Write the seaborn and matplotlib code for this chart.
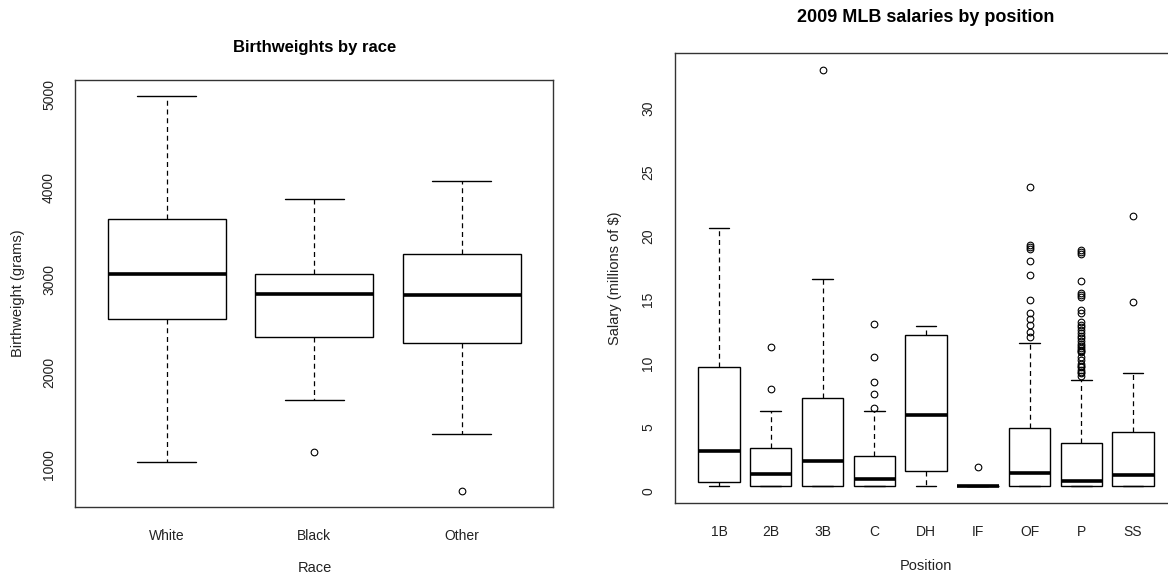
import pandas as pd
import matplotlib
matplotlib.use("Agg")
import matplotlib.pyplot as plt
import seaborn as sns

# Birthweights by race: box statistics (grams)
races = ["White", "Black", "Other"]
race_lo = [1021, 1700, 1330]
race_q1 = [2577, 2374, 2313]
race_med = [3058, 2849, 2838]
race_q3 = [3655, 3060, 3272]
race_hi = [4990, 3868, 4064]
race_out = [[], [1135], [709]]

# 2009 MLB salaries by position (millions of $)
positions = ["1B", "2B", "3B", "C", "DH", "IF", "OF", "P", "SS"]
pos_lo = [0.40, 0.40, 0.40, 0.40, 0.40, 0.40, 0.40, 0.40, 0.40]
pos_q1 = [0.75, 0.46, 0.46, 0.46, 1.60, 0.41, 0.46, 0.45, 0.46]
pos_med = [3.13, 1.38, 2.41, 0.95, 5.97, 0.42, 1.46, 0.81, 1.32]
pos_q3 = [9.76, 3.42, 7.35, 2.80, 12.23, 0.44, 4.96, 3.80, 4.65]
pos_hi = [20.61, 6.26, 16.60, 6.26, 12.98, 0.45, 11.64, 8.75, 9.24]
pos_out = [
    [],
    [8.04, 11.31],
    [33.0],
    [6.52, 7.64, 8.53, 10.51, 13.12],
    [],
    [1.95],
    [12.09, 12.5, 13.0, 13.5, 14.0, 15.0, 16.97, 18.0, 18.95, 19.1, 19.3, 23.85],
    [9.0, 9.25, 9.35, 9.5, 9.75, 9.85, 10.0, 10.25, 10.5, 10.95, 11.0, 11.1,
     11.25, 11.4, 11.5, 11.75, 12.0, 12.2, 12.4, 12.6, 12.9, 13.0, 13.25,
     14.0, 14.2, 15.2, 15.35, 15.5, 16.45, 18.6, 18.75, 18.9],
    [14.79, 21.56],
]


def sample_from_stats(lo, q1, med, q3, hi, out):
    # 4k+1 values so that np.percentile hits q1 / median / q3 exactly
    low = sorted(v for v in out if v < lo)
    high = sorted(v for v in out if v > hi)
    k = max(len(low), len(high)) + 1
    return (low + [lo] + [q1] * (k - len(low)) + [med] * k
            + [q3] * (2 * k - len(high) - 1) + [hi] + high)


rows = []
for name, *st in zip(races, race_lo, race_q1, race_med, race_q3, race_hi, race_out):
    rows += [(name, v) for v in sample_from_stats(*st)]
df_bw = pd.DataFrame(rows, columns=["race", "bwt"])

rows = []
for name, *st in zip(positions, pos_lo, pos_q1, pos_med, pos_q3, pos_hi, pos_out):
    rows += [(name, v) for v in sample_from_stats(*st)]
df_sal = pd.DataFrame(rows, columns=["position", "salary"])

sns.set_style("white")
plt.rcParams["font.family"] = ["Liberation Sans", "DejaVu Sans"]

fig = plt.figure(figsize=(11.68, 5.75), dpi=100)
ax1 = fig.add_axes([0.0646, 0.1183, 0.4092, 0.7426])
ax2 = fig.add_axes([0.5775, 0.1252, 0.4307, 0.7826])

box_kw = dict(
    width=0.8, color="white", linecolor="black", linewidth=1.0, whis=1.5,
    medianprops={"linewidth": 2.6, "color": "black"},
    whiskerprops={"linestyle": (0, (4, 3)), "linewidth": 0.9},
    capprops={"linewidth": 1.0},
    flierprops={"marker": "o", "markersize": 4.8, "markerfacecolor": "none",
                "markeredgecolor": "black", "markeredgewidth": 0.8},
)

sns.boxplot(data=df_bw, x="race", y="bwt", order=races, ax=ax1, **box_kw)
sns.boxplot(data=df_sal, x="position", y="salary", order=positions, ax=ax2, **box_kw)

ax1.set_xlim(-0.62, 2.62)
ax1.set_ylim(538, 5161)
ax1.set_yticks([1000, 2000, 3000, 4000, 5000])
ax2.set_xlim(-0.86, 8.86)
ax2.set_ylim(-0.9, 34.3)
ax2.set_yticks([0, 5, 10, 15, 20, 25, 30])

panels = [
    (ax1, "Birthweights by race", "Race", "Birthweight (grams)",
     (-0.1429, -0.1203, 1.077), 12),
    (ax2, "2009 MLB salaries by position", "Position", "Salary (millions of $)",
     (-0.14, -0.1183, 1.08), 13),
]
for ax, title, xl, yl, (xly, ylx, ty), tsize in panels:
    for s in ax.spines.values():
        s.set_visible(True)
        s.set_color("#333333")
        s.set_linewidth(1.0)
    ax.tick_params(direction="out", length=5, width=0.8, color="#333333",
                   labelsize=10, labelcolor="#222222", pad=9)
    ax.tick_params(axis="x", pad=11)
    ax.tick_params(axis="y", labelrotation=90)
    for t in ax.get_yticklabels():
        t.set_va("center")
    ax.set_xlabel(xl, fontsize=10.5, color="#222222")
    ax.set_ylabel(yl, fontsize=10.5, color="#222222")
    ax.xaxis.set_label_coords(0.5, xly)
    ax.xaxis.label.set_va("center")
    ax.yaxis.set_label_coords(ylx, 0.5)
    ax.yaxis.label.set_va("center")
    ax.text(0.5, ty, title, transform=ax.transAxes, ha="center", va="center",
            fontsize=tsize, fontweight="bold", color="black")

fig.savefig("out.png", dpi=100)
